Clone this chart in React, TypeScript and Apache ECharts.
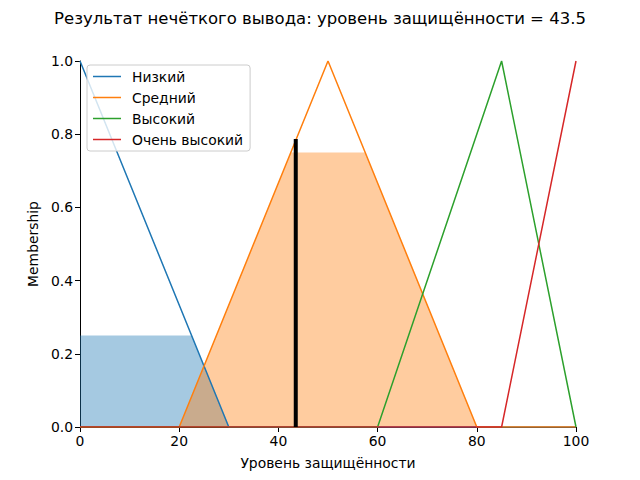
import React, { useEffect, useRef } from "react";
import * as echarts from "echarts";

const titleText = "Результат нечёткого вывода: уровень защищённости = 43.5";
const xName = "Уровень защищённости";
const yName = "Membership";

const seriesNames = ["Низкий", "Средний", "Высокий", "Очень высокий"];
const colors = ["#1f77b4", "#ff7f0e", "#2ca02c", "#d62728"];

const lowX = [0, 30, 100];
const lowY = [1, 0, 0];
const midX = [0, 20, 50, 80, 100];
const midY = [0, 0, 1, 0, 0];
const highX = [0, 60, 85, 100];
const highY = [0, 0, 1, 0];
const veryHighX = [0, 85, 100];
const veryHighY = [0, 0, 1];

const lowFillX = [0, 22.5, 30];
const lowFillY = [0.25, 0.25, 0];
const midFillX = [20, 42.5, 57.5, 80];
const midFillY = [0, 0.75, 0.75, 0];

const crispValue = 43.5;
const crispHeight = 0.787;

const zip = (xs: number[], ys: number[]) => xs.map((x, i) => [x, ys[i]]);

const FONT = "DejaVu Sans";

export default function App() {
  const ref = useRef<HTMLDivElement>(null);
  useEffect(() => {
    if (!ref.current) return;
    const chart = echarts.init(ref.current, null, { renderer: "svg" });
    const lineSets = [
      zip(lowX, lowY),
      zip(midX, midY),
      zip(highX, highY),
      zip(veryHighX, veryHighY),
    ];
    const option: any = {
      animation: false,
      backgroundColor: "#ffffff",
      title: {
        text: titleText,
        left: "center",
        top: 5,
        textStyle: { fontFamily: FONT, fontSize: 16.5, fontWeight: "normal", color: "#000" },
      },
      grid: { left: 80, right: 64, top: 61, bottom: 53 },
      legend: {
        orient: "vertical",
        left: 87,
        top: 65,
        data: seriesNames,
        icon: "rect",
        itemWidth: 28,
        itemHeight: 1.5,
        itemGap: 0,
        padding: [1, 7, 1, 6],
        backgroundColor: "rgba(255,255,255,0.8)",
        borderColor: "#cccccc",
        borderWidth: 1,
        borderRadius: 3,
        textStyle: {
          fontFamily: FONT,
          fontSize: 13.9,
          color: "#000",
          lineHeight: 21,
          padding: [0, 0, 0, 6],
        },
      },
      xAxis: {
        type: "value",
        min: 0,
        max: 100,
        interval: 20,
        name: xName,
        nameLocation: "middle",
        nameGap: 29,
        nameTextStyle: { fontFamily: FONT, fontSize: 13.9, color: "#000" },
        axisLine: { show: true, lineStyle: { color: "#000", width: 1 } },
        axisTick: { show: true, length: 5, lineStyle: { color: "#000" } },
        axisLabel: { fontFamily: FONT, fontSize: 13.9, color: "#000", margin: 7 },
        splitLine: { show: false },
      },
      yAxis: {
        type: "value",
        min: 0,
        max: 1,
        interval: 0.2,
        name: yName,
        nameLocation: "middle",
        nameGap: 37,
        nameTextStyle: { fontFamily: FONT, fontSize: 13.9, color: "#000" },
        axisLine: { show: true, lineStyle: { color: "#000", width: 1 } },
        axisTick: { show: true, length: 5, lineStyle: { color: "#000" } },
        axisLabel: {
          fontFamily: FONT,
          fontSize: 13.9,
          color: "#000",
          margin: 7,
          formatter: (v: number) => v.toFixed(1),
        },
        splitLine: { show: false },
      },
      series: [
        {
          type: "line",
          name: "lowFill",
          data: zip(lowFillX, lowFillY),
          symbol: "none",
          lineStyle: { width: 0, opacity: 0 },
          areaStyle: { color: "rgba(31,119,180,0.4)", opacity: 1 },
          z: 1,
          silent: true,
        },
        {
          type: "line",
          name: "midFill",
          data: zip(midFillX, midFillY),
          symbol: "none",
          lineStyle: { width: 0, opacity: 0 },
          areaStyle: { color: "rgba(255,127,14,0.4)", opacity: 1 },
          z: 1,
          silent: true,
        },
        ...seriesNames.map((n, i) => ({
          type: "line",
          name: n,
          data: lineSets[i],
          symbol: "none",
          color: colors[i],
          lineStyle: { color: colors[i], width: 1.5 },
          z: 3,
        })),
        {
          type: "line",
          name: "crisp",
          data: [
            [crispValue, 0],
            [crispValue, crispHeight],
          ],
          symbol: "none",
          lineStyle: { color: "#000", width: 4, cap: "butt" },
          z: 4,
        },
      ],
    };
    chart.setOption(option);
    return () => chart.dispose();
  }, []);
  return (
    <div
      ref={ref}
      style={{ position: "absolute", left: 0, top: 0, width: 640, height: 480 }}
    />
  );
}
